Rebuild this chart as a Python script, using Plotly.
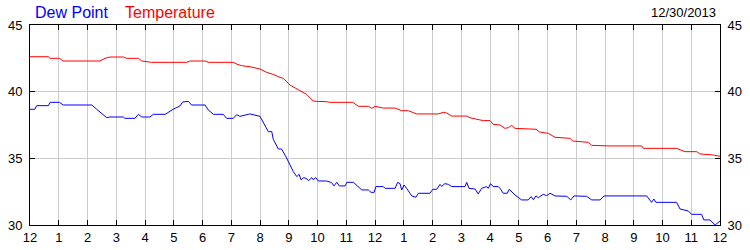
import plotly.graph_objects as go

# Hours since midnight (12/30/2013)
temp_hours = [0.0, 0.64, 0.70, 1.02, 1.16, 2.43, 2.61, 2.78, 3.25, 3.36, 3.77, 3.89, 4.23, 5.45,
              5.57, 6.09, 6.20, 7.07, 7.19, 7.36, 7.65, 8.0, 8.23, 8.45, 8.70, 8.81, 9.04, 9.28,
              9.62, 9.85, 9.97, 10.32, 10.43, 11.23, 11.42, 11.77, 11.89, 12.0, 12.29, 12.70,
              12.93, 13.16, 13.45, 14.20, 14.38, 14.49, 14.67, 15.19, 15.30, 15.54, 15.77, 16.0,
              16.11, 16.35, 16.52, 16.64, 16.75, 16.87, 17.60, 17.72, 18.03, 18.26, 18.78, 18.88,
              19.42, 19.54, 20.17, 21.28, 21.33, 22.49, 22.61, 22.78, 23.19, 23.30, 23.77, 24.0]
temp_values = [42.62, 42.62, 42.5, 42.5, 42.3, 42.3, 42.5, 42.6, 42.6, 42.5, 42.5, 42.3, 42.2, 42.2,
               42.3, 42.3, 42.2, 42.2, 42.07, 41.95, 41.87, 41.7, 41.45, 41.3, 41.07, 41.0, 40.5, 40.2,
               39.8, 39.3, 39.27, 39.25, 39.2, 39.2, 38.9, 38.9, 38.75, 38.9, 38.77, 38.77,
               38.57, 38.57, 38.33, 38.33, 38.45, 38.4, 38.17, 38.17, 38.05, 37.93, 37.83, 37.83,
               37.55, 37.5, 37.25, 37.3, 37.47, 37.25, 37.18, 36.98, 36.87, 36.58, 36.5, 36.3,
               36.2, 35.97, 35.93, 35.93, 35.75, 35.75, 35.63, 35.5, 35.5, 35.33, 35.25, 35.15]

dew_hours = [0.0, 0.17, 0.23, 0.64, 0.70, 1.02, 1.16, 2.15, 2.32, 2.43, 2.67, 2.78, 3.25, 3.30,
             3.65, 3.77, 3.89, 4.17, 4.29, 4.70, 4.98, 5.22, 5.31, 5.51, 5.62, 6.09, 6.20, 6.38,
             6.72, 6.84, 7.07, 7.19, 7.30, 7.59, 7.65, 8.0, 8.17, 8.29, 8.41, 8.46, 8.64, 8.75,
             8.90, 9.02, 9.16, 9.28, 9.36, 9.43, 9.51, 9.60, 9.69, 9.80, 9.85, 9.94, 10.03, 10.32,
             10.49, 10.57, 10.67, 10.76, 10.96, 11.02, 11.25, 11.54, 11.77, 11.86, 11.97, 12.03,
             12.29, 12.35, 12.70, 12.79, 12.87, 12.93, 13.01, 13.10, 13.28, 13.42, 13.51, 13.91,
             14.01, 14.15, 14.26, 14.32, 14.43, 14.55, 14.67, 15.13, 15.19, 15.27, 15.48, 15.59,
             15.71, 15.88, 15.94, 16.02, 16.11, 16.29, 16.35, 16.46, 16.60, 16.67, 16.87, 17.10,
             17.33, 17.43, 17.51, 17.60, 17.68, 17.85, 17.97, 18.09, 18.26, 18.67, 18.81, 18.92,
             19.36, 19.54, 19.83, 19.97, 21.45, 21.62, 21.70, 21.77, 22.49, 22.61, 22.90, 23.01,
             23.36, 23.44, 23.65, 23.83, 24.0]
dew_values = [38.68, 38.68, 38.95, 38.95, 39.2, 39.2, 39.0, 39.0, 38.68, 38.5, 38.05, 38.1, 38.1, 38.0,
              38.0, 38.3, 38.1, 38.1, 38.3, 38.3, 38.68, 38.93, 39.23, 39.27, 39.0, 39.0, 38.63, 38.3,
              38.3, 38.0, 38.0, 38.27, 38.15, 38.3, 38.33, 38.15, 37.5, 37.0, 37.0, 36.43, 35.7, 35.7,
              35.13, 34.55, 34.0, 33.63, 33.8, 33.38, 33.55, 33.5, 33.33, 33.55, 33.4, 33.55, 33.3, 33.3,
              33.18, 32.93, 33.2, 32.93, 32.93, 33.2, 33.2, 32.63, 32.63, 32.45, 32.45, 32.88,
              32.88, 32.75, 32.75, 33.2, 33.1, 32.63, 33.0, 32.75, 32.18, 32.08, 32.38, 32.38,
              32.68, 32.68, 33.05, 32.9, 33.1, 33.05, 32.88, 32.88, 33.2, 32.75, 32.7, 32.33,
              32.75, 32.88, 32.75, 33.1, 32.88, 32.88, 32.75, 32.38, 32.38, 32.68, 32.25, 31.88,
              31.88, 32.13, 31.9, 32.18, 32.05, 32.3, 32.2, 32.38, 32.18, 32.15, 31.88, 32.18,
              32.15, 31.88, 31.88, 32.18, 32.18, 31.7, 31.95, 31.7, 31.7, 31.2, 31.05, 30.8,
              30.8, 30.38, 30.38, 30.0, 30.3]

tick_hours = list(range(25))
tick_labels = ["12", "1", "2", "3", "4", "5", "6", "7", "8", "9", "10", "11",
               "12", "1", "2", "3", "4", "5", "6", "7", "8", "9", "10", "11", "12"]
y_ticks = [30, 35, 40, 45]
date_label = "12/30/2013"

FONT = "Liberation Sans, Arial, sans-serif"

fig = go.Figure()
fig.add_trace(go.Scatter(x=temp_hours, y=temp_values, mode="lines", name="Temperature",
                         line=dict(color="#ff0000", width=1)))
fig.add_trace(go.Scatter(x=dew_hours, y=dew_values, mode="lines", name="Dew Point",
                         line=dict(color="#0000ff", width=1)))
# invisible trace to anchor the right-hand axis
fig.add_trace(go.Scatter(x=[0], y=[30], yaxis="y2", mode="markers",
                         marker=dict(opacity=0), showlegend=False, hoverinfo="skip"))

fig.update_layout(
    width=750, height=250,
    margin=dict(l=30, r=30, t=25, b=25, pad=0, autoexpand=False),
    paper_bgcolor="white", plot_bgcolor="white",
    showlegend=False,
    font=dict(family=FONT, size=13, color="black"),
    xaxis=dict(range=[0, 24], tickvals=tick_hours, ticktext=tick_labels,
               ticks="inside", ticklen=5, tickcolor="black",
               showline=True, linecolor="black", linewidth=1, mirror="ticks",
               showgrid=True, gridcolor="#cccccc", gridwidth=1, zeroline=False,
               tickfont=dict(size=13), ticklabelstandoff=0, automargin=False),
    yaxis=dict(range=[30, 45], tickvals=y_ticks,
               ticks="inside", ticklen=5, tickcolor="black",
               showline=True, linecolor="black", linewidth=1,
               showgrid=True, gridcolor="#cccccc", gridwidth=1, zeroline=False,
               tickfont=dict(size=13), ticklabelstandoff=4, automargin=False),
    yaxis2=dict(range=[30, 45], tickvals=y_ticks, overlaying="y", side="right",
                ticks="inside", ticklen=5, tickcolor="black",
                showline=True, linecolor="black", linewidth=1,
                showgrid=False, zeroline=False,
                tickfont=dict(size=13), ticklabelstandoff=4, automargin=False),
    annotations=[
        dict(text="Dew Point", x=0.004, xref="paper", y=1.065, yref="paper",
             xanchor="left", yanchor="middle", showarrow=False,
             font=dict(family=FONT, size=16, color="#0000ff")),
        dict(text="Temperature", x=0.135, xref="paper", y=1.065, yref="paper",
             xanchor="left", yanchor="middle", showarrow=False,
             font=dict(family=FONT, size=16, color="#ff0000")),
        dict(text=date_label, x=0.997, xref="paper", y=1.065, yref="paper",
             xanchor="right", yanchor="middle", showarrow=False,
             font=dict(family=FONT, size=13, color="black")),
    ],
)

fig.write_html("out.html")
